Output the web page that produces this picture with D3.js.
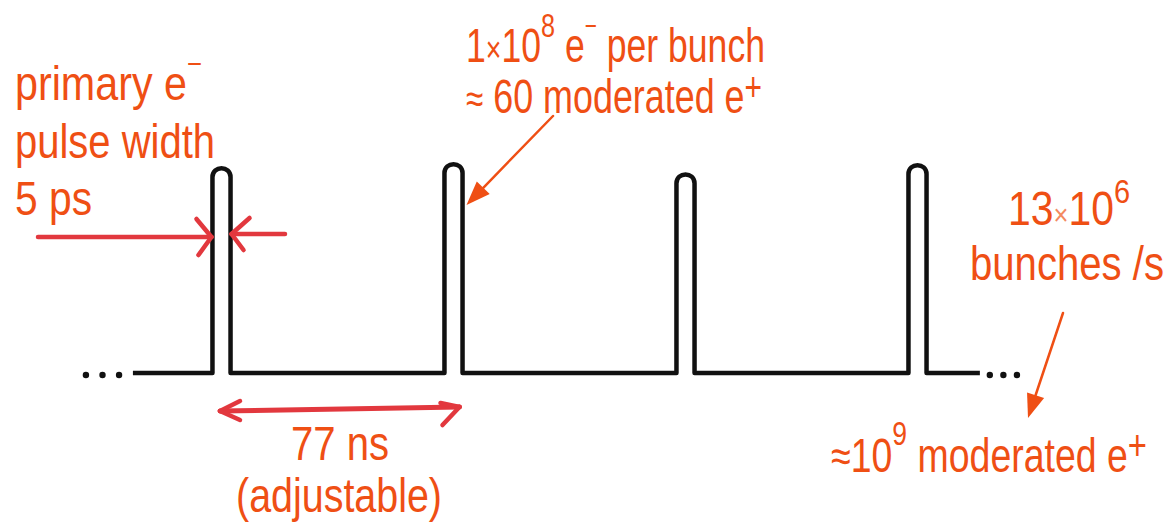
<!DOCTYPE html>
<html>
<head>
<meta charset="utf-8">
<script src="https://cdn.jsdelivr.net/npm/d3@7"></script>
<style>
  body { margin: 0; background: #fff; }
  text { font-family: "Liberation Sans Narrow", "Arial Narrow", "Liberation Sans", Arial, sans-serif; }
</style>
</head>
<body>
<div id="chart"></div>
<script>
var svgWidth = 1170;
var svgHeight = 526;

// pulse train (times in ns, amplitude in arbitrary units)
var pulseTimes = [0, 77, 154, 231];
var pulseAmps = [1.0, 1.02, 0.97, 1.015];
var pulseHalfWidth = 3;          // drawn width, not to scale
var traceRange = [-29.4, 251.7];
var leftDots = [-45, -39.5, -34];
var rightDots = [255, 259.5, 264];

var textColor = "#ef4f14";
var arrowColor = "#e2383e";

var svg = d3.select("#chart")
  .append("svg")
  .attr("width", svgWidth)
  .attr("height", svgHeight);

svg.append("rect").attr("width", svgWidth).attr("height", svgHeight).attr("fill", "#fff");

//Scales
var xScale = d3.scaleLinear()
  .domain([pulseTimes[0], pulseTimes[3]])
  .range([221.5, 917.5]);

var yScale = d3.scaleLinear()
  .domain([0, 1])
  .range([373, 168]);

//Trace path
var p = d3.path();
p.moveTo(xScale(traceRange[0]), yScale(0));
pulseTimes.forEach(function(t, i) {
  var xl = xScale(t - pulseHalfWidth);
  var xr = xScale(t + pulseHalfWidth);
  var yt = yScale(pulseAmps[i]);
  var r = (xr - xl) / 2;
  p.lineTo(xl, yScale(0));
  p.lineTo(xl, yt + r);
  p.bezierCurveTo(xl, yt - r * 0.3, xr, yt - r * 0.3, xr, yt + r);
  p.lineTo(xr, yScale(0));
});
p.lineTo(xScale(traceRange[1]), yScale(0));

svg.append("path")
  .attr("d", p.toString())
  .attr("fill", "none")
  .attr("stroke", "#111")
  .attr("stroke-width", 4.5)
  .attr("stroke-linejoin", "round");

//Dots
svg.selectAll("circle.dot")
  .data(leftDots.concat(rightDots))
  .enter()
  .append("circle")
  .attr("class", "dot")
  .attr("cx", d => xScale(d))
  .attr("cy", yScale(0) + 2)
  .attr("r", 3.2)
  .attr("fill", "#111");

//Hand drawn style arrows
function line(x1, y1, x2, y2, color, w) {
  svg.append("line")
    .attr("x1", x1).attr("y1", y1).attr("x2", x2).attr("y2", y2)
    .attr("stroke", color).attr("stroke-width", w)
    .attr("stroke-linecap", "round");
}

function openHead(tx, ty, ax, ay, bx, by) {
  line(ax, ay, tx, ty, arrowColor, 4.5);
  line(bx, by, tx, ty, arrowColor, 4.5);
}

// pulse width arrows
var pw0 = xScale(pulseTimes[0] - pulseHalfWidth) - 1;
var pw1 = xScale(pulseTimes[0] + pulseHalfWidth) + 1;
line(38, 237, pw0, 237, arrowColor, 4.5);
openHead(pw0, 237, pw0 - 15, 219, pw0 - 13, 255);
line(285, 234, pw1, 234, arrowColor, 4.5);
openHead(pw1, 234, pw1 + 18, 218, pw1 + 12, 250);

// spacing arrow
var s0 = xScale(pulseTimes[0]) - 1.5;
var s1 = xScale(pulseTimes[1]) + 6;
line(s0, 411, s1, 407, arrowColor, 5);
openHead(s0, 411, s0 + 20, 401, s0 + 20, 420);
openHead(s1, 407, s1 - 19, 403, s1 - 17, 425);

// pointer arrows with filled heads
function pointer(x1, y1, x2, y2) {
  var ang = Math.atan2(y2 - y1, x2 - x1);
  var len = 24, half = 9;
  var bx = x2 - len * Math.cos(ang), by = y2 - len * Math.sin(ang);
  line(x1, y1, bx, by, textColor, 2.5);
  svg.append("polygon")
    .attr("points", [
      [x2, y2],
      [bx + half * Math.sin(ang), by - half * Math.cos(ang)],
      [bx - half * Math.sin(ang), by + half * Math.cos(ang)]
    ].map(d => d.join(",")).join(" "))
    .attr("fill", textColor);
}
pointer(553, 116, xScale(pulseTimes[1] + pulseHalfWidth) + 4, 205);
pointer(1063, 313, 1028, 418);

//Labels
function label(x, y, parts, len) {
  var t = svg.append("text")
    .attr("x", x).attr("y", y)
    .attr("fill", textColor)
    .attr("font-size", "48px");
  parts.forEach(function(pt) {
    var s = t.append("tspan").text(pt.t);
    if (pt.size) s.attr("font-size", pt.size + "px");
    if (pt.dy) s.attr("dy", pt.dy);
    if (pt.fill) s.attr("fill", pt.fill);
  });
  if (len) t.attr("textLength", len).attr("lengthAdjust", "spacingAndGlyphs");
  return t;
}

label(15, 100, [{t: "primary e"}, {t: "\u2212", size: 30, dy: -26}], 187);
label(15, 158, [{t: "pulse width"}], 200);
label(15, 215, [{t: "5 ps"}], 77);

label(466, 62, [{t: "1"}, {t: "\u00d7", size: 36}, {t: "10"}, {t: "8", size: 34, dy: -25},
  {t: " e", dy: 25}, {t: "\u2212", size: 28, dy: -27}, {t: " per bunch", dy: 27}], 299);
label(466, 113, [{t: "\u2248", size: 42}, {t: " 60 moderated e"}, {t: "+", size: 40, dy: -12}], 296);

label(1008, 225, [{t: "13"}, {t: "\u00d7", size: 30, fill: "#f38a60"}, {t: "10"}, {t: "6", size: 34, dy: -22}], 122);
label(970, 280, [{t: "bunches /s"}], 194);
label(831, 472, [{t: "\u2248", size: 46}, {t: "10"}, {t: "9", size: 34, dy: -27},
  {t: " moderated e", dy: 27}, {t: "+", size: 42, dy: -12}], 316);

label(291, 460, [{t: "77 ns"}], 98);
label(236, 512, [{t: "(adjustable)"}], 206);
</script>
</body>
</html>
